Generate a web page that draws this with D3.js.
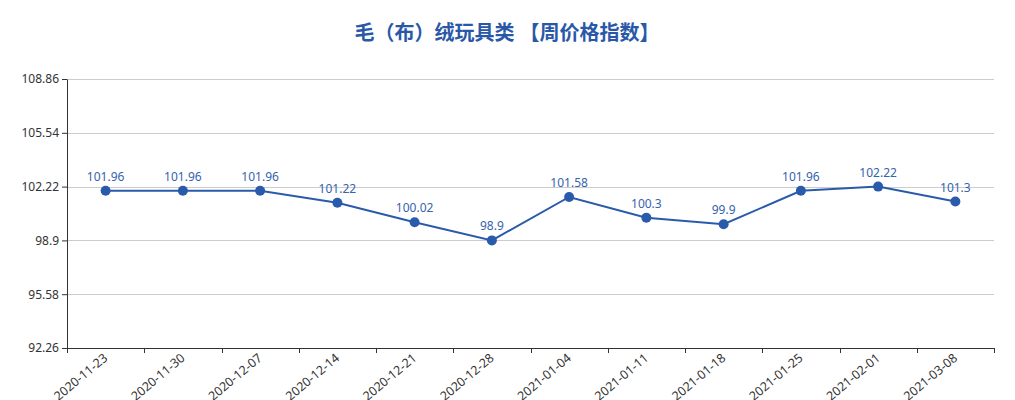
<!DOCTYPE html>
<html>
<head>
<meta charset="utf-8">
<script src="https://cdn.jsdelivr.net/npm/d3@7"></script>
<style>
  body { margin: 0; background: #fff; }
  text { font-family: "Noto Sans", "Noto Sans CJK SC", sans-serif; }
</style>
</head>
<body>
<svg id="chart" width="1015" height="400"></svg>
<script>
const titleText = "毛（布）绒玩具类 【周价格指数】";
const dates = ["2020-11-23", "2020-11-30", "2020-12-07", "2020-12-14", "2020-12-21", "2020-12-28",
  "2021-01-04", "2021-01-11", "2021-01-18", "2021-01-25", "2021-02-01", "2021-03-08"];
const values = [101.96, 101.96, 101.96, 101.22, 100.02, 98.9, 101.58, 100.3, 99.9, 101.96, 102.22, 101.3];
const yTicks = [92.26, 95.58, 98.9, 102.22, 105.54, 108.86];

const svg = d3.select("#chart");
const margin = { top: 79, right: 21, bottom: 52, left: 67 },
  width = 1015 - margin.left - margin.right,
  height = 400 - margin.top - margin.bottom;
const blue = "#2a5bab";

svg.append("text")
  .attr("x", 507).attr("y", 40)
  .attr("text-anchor", "middle")
  .attr("font-family", "'Noto Sans CJK SC', sans-serif")
  .attr("font-size", 20).attr("font-weight", "bold")
  .attr("fill", "#2a58a8")
  .text(titleText);

const g = svg.append("g").attr("transform", `translate(${margin.left},${margin.top})`);

const x = d3.scaleBand().domain(dates).range([0, width]);
const y = d3.scaleLinear().domain([92.26, 108.86]).range([height, 0]);

// grid lines
g.append("g")
  .selectAll("line")
  .data(yTicks.slice(1))
  .enter()
  .append("line")
  .attr("x1", 0).attr("x2", width)
  .attr("y1", d => Math.round(y(d)) + 0.5).attr("y2", d => Math.round(y(d)) + 0.5)
  .attr("stroke", "#ccc");

// y axis
const yAxis = g.append("g")
  .call(d3.axisLeft(y).tickValues(yTicks).tickFormat(d => String(d)).tickSize(5).tickSizeOuter(0));
yAxis.select(".domain").attr("stroke", "#333");
yAxis.selectAll(".tick line").attr("stroke", "#333");
yAxis.selectAll("text").attr("fill", "#333").attr("font-size", 12).attr("x", -8);

// x axis, ticks between categories
const xAxis = g.append("g").attr("transform", `translate(0,${height})`);
xAxis.append("line")
  .attr("x1", 0).attr("x2", width).attr("y1", 0.5).attr("y2", 0.5)
  .attr("stroke", "#333");
const bounds = dates.map(d => x(d)).concat([width]);
xAxis.selectAll(".xt")
  .data(bounds)
  .enter()
  .append("line")
  .attr("class", "xt")
  .attr("x1", d => Math.round(d) + 0.5).attr("x2", d => Math.round(d) + 0.5)
  .attr("y1", 0).attr("y2", 5)
  .attr("stroke", "#333");
xAxis.selectAll(".xl")
  .data(dates)
  .enter()
  .append("text")
  .attr("class", "xl")
  .attr("transform", d => `translate(${x(d) + x.bandwidth() / 2},${8}) rotate(-40)`)
  .attr("text-anchor", "end")
  .attr("dy", "0.35em")
  .attr("font-size", 12.5)
  .attr("fill", "#333")
  .text(d => d);

// line
const line = d3.line()
  .x((d, i) => x(dates[i]) + x.bandwidth() / 2)
  .y(d => y(d));

g.append("path")
  .datum(values)
  .attr("d", line)
  .attr("fill", "none")
  .attr("stroke", blue)
  .attr("stroke-width", 2);

g.append("g")
  .selectAll("circle")
  .data(values)
  .enter()
  .append("circle")
  .attr("cx", (d, i) => x(dates[i]) + x.bandwidth() / 2)
  .attr("cy", d => y(d))
  .attr("r", 5)
  .attr("fill", blue);

g.append("g")
  .selectAll("text")
  .data(values)
  .enter()
  .append("text")
  .attr("x", (d, i) => x(dates[i]) + x.bandwidth() / 2)
  .attr("y", d => y(d) - 10)
  .attr("text-anchor", "middle")
  .attr("font-size", 12)
  .attr("fill", "#3563ad")
  .text(d => d);
</script>
</body>
</html>
